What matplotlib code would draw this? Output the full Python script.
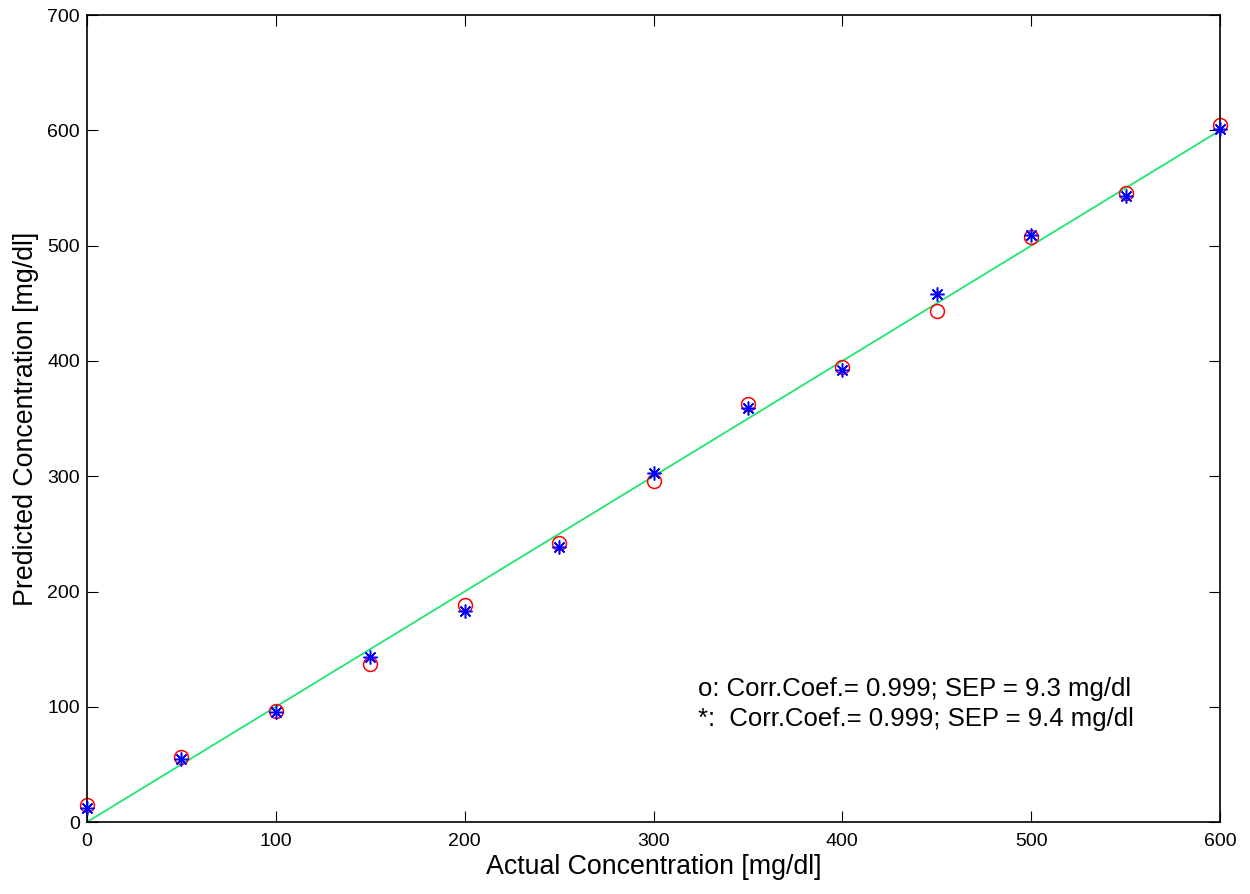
import numpy as np
import matplotlib.pyplot as plt

plt.rcParams['font.family'] = ['Liberation Sans', 'DejaVu Sans']

# datos
actual = [0, 50, 100, 150, 200, 250, 300, 350, 400, 450, 500, 550, 600]
pred_o = [14.5, 56, 96.5, 137, 188, 242, 296, 363, 395, 443.5, 508, 546, 605]
pred_star = [12.5, 55, 95.5, 143, 183, 239, 303, 359, 392.5, 458, 509.5, 543.5, 601]
ideal = [0, 600]

fig = plt.figure(figsize=(12.5, 8.94), dpi=100)
ax = fig.add_axes([0.0696, 0.0805, 0.9064, 0.9025])

ax.plot(ideal, ideal, color='#1ee66e', lw=1.3, zorder=1)
ax.plot(actual, pred_o, ls='none', marker='o', ms=10, mfc='none', mec='red',
        mew=1.1, zorder=2, clip_on=False)
ax.plot(actual, pred_star, ls='none', marker=(8, 2, 0), ms=10, color='blue',
        mew=1.1, zorder=3, clip_on=False)

ax.set_xlim(0, 600)
ax.set_ylim(0, 700)
ax.set_xticks(range(0, 601, 100))
ax.set_yticks(range(0, 701, 100))
ax.tick_params(direction='in', length=8, labelsize=14, top=True, right=True)
ax.tick_params(axis='x', pad=8)
ax.tick_params(axis='y', pad=5)
ax.tick_params(labeltop=False, labelright=False)
for s in ax.spines.values():
    s.set_linewidth(1.2)

ax.set_xlabel('Actual Concentration [mg/dl]', fontsize=19.3, labelpad=3)
ax.set_ylabel('Predicted Concentration [mg/dl]', fontsize=19.3, labelpad=6)

ax.text(323.5, 115, 'o: Corr.Coef.= 0.999; SEP = 9.3 mg/dl', fontsize=18.5, va='center')
ax.text(323.5, 89, '*:  Corr.Coef.= 0.999; SEP = 9.4 mg/dl', fontsize=18.5, va='center')

fig.savefig('out.png', dpi=100)
